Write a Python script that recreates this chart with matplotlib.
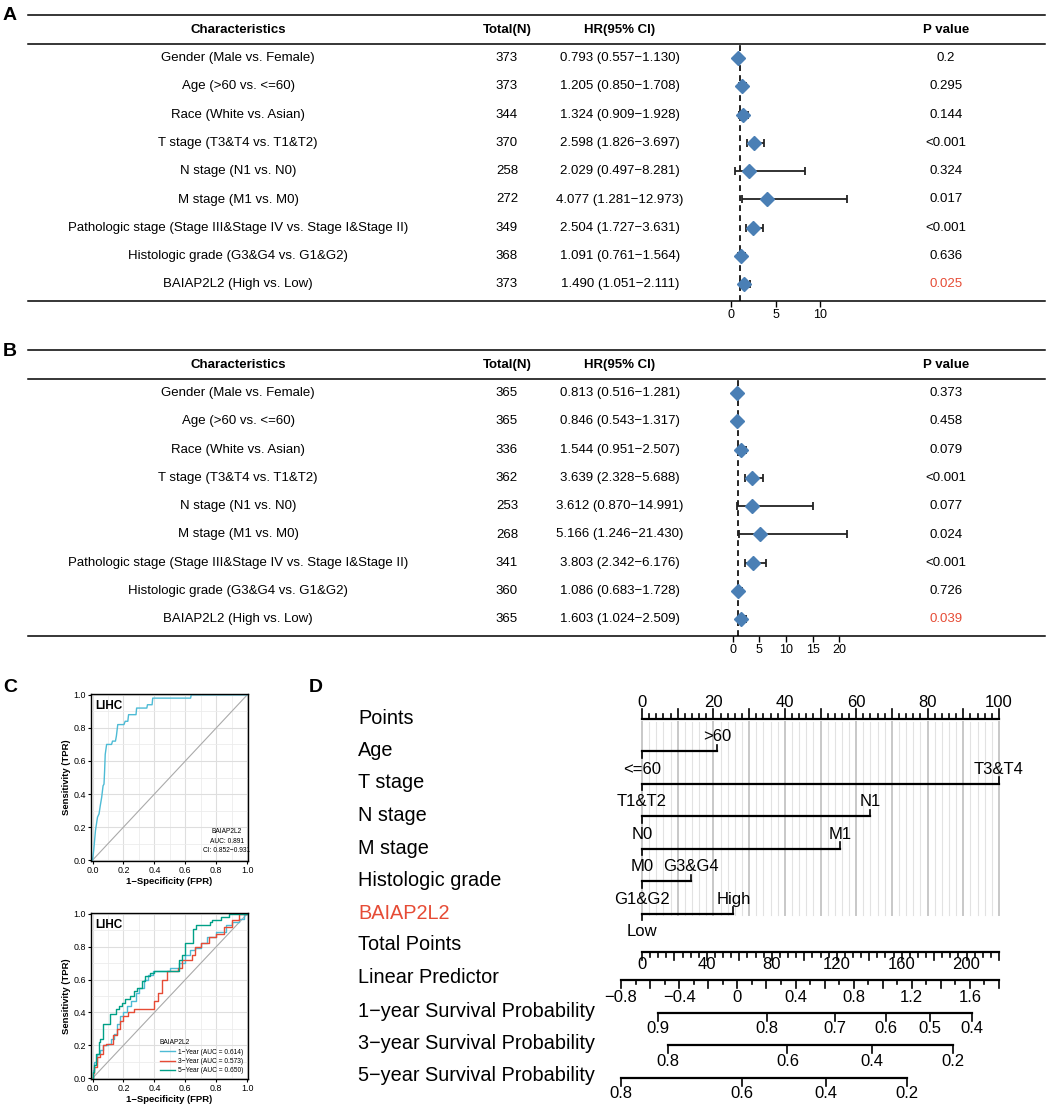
import numpy as np
import matplotlib
matplotlib.use('Agg')
import matplotlib.pyplot as plt

plt.rcParams['font.family'] = ['Liberation Sans', 'DejaVu Sans']

# ---------------- data: Cox tables (A univariate, B multivariate) ----------------
characteristics = ['Gender (Male vs. Female)', 'Age (>60 vs. <=60)', 'Race (White vs. Asian)',
                   'T stage (T3&T4 vs. T1&T2)', 'N stage (N1 vs. N0)', 'M stage (M1 vs. M0)',
                   'Pathologic stage (Stage III&Stage IV vs. Stage I&Stage II)',
                   'Histologic grade (G3&G4 vs. G1&G2)', 'BAIAP2L2 (High vs. Low)']

uni_n = [373, 373, 344, 370, 258, 272, 349, 368, 373]
uni_hr = [0.793, 1.205, 1.324, 2.598, 2.029, 4.077, 2.504, 1.091, 1.490]
uni_lo = [0.557, 0.850, 0.909, 1.826, 0.497, 1.281, 1.727, 0.761, 1.051]
uni_hi = [1.130, 1.708, 1.928, 3.697, 8.281, 12.973, 3.631, 1.564, 2.111]
uni_p = ['0.2', '0.295', '0.144', '<0.001', '0.324', '0.017', '<0.001', '0.636', '0.025']

multi_n = [365, 365, 336, 362, 253, 268, 341, 360, 365]
multi_hr = [0.813, 0.846, 1.544, 3.639, 3.612, 5.166, 3.803, 1.086, 1.603]
multi_lo = [0.516, 0.543, 0.951, 2.328, 0.870, 1.246, 2.342, 0.683, 1.024]
multi_hi = [1.281, 1.317, 2.507, 5.688, 14.991, 21.430, 6.176, 1.728, 2.509]
multi_p = ['0.373', '0.458', '0.079', '<0.001', '0.077', '0.024', '<0.001', '0.726', '0.039']

# ---------------- data: ROC curves (C) ----------------
diag_fpr = [0, 1]
diag_tpr = [0, 1]

roc_fpr = [0, 0.008, 0.019, 0.032, 0.042, 0.05, 0.059, 0.068, 0.074, 0.078, 0.082, 0.091,
           0.123, 0.129, 0.148, 0.154, 0.163, 0.203, 0.211, 0.228, 0.233, 0.281, 0.285,
           0.351, 0.355, 0.385, 0.389, 0.634, 0.638, 1.0]
roc_tpr = [0, 0.064, 0.18, 0.26, 0.28, 0.33, 0.38, 0.45, 0.46, 0.54, 0.64, 0.70,
           0.70, 0.72, 0.72, 0.75, 0.82, 0.82, 0.84, 0.84, 0.88, 0.88, 0.92,
           0.92, 0.94, 0.94, 0.98, 0.98, 1.0, 1.0]
roc_text = 'BAIAP2L2\nAUC: 0.891\nCI: 0.852\u22120.931'

y1_fpr = [0, 0.01, 0.03, 0.05, 0.07, 0.10, 0.12, 0.14, 0.16, 0.18, 0.20, 0.22, 0.25, 0.28,
          0.30, 0.33, 0.36, 0.39, 0.42, 0.50, 0.56, 0.60, 0.63, 0.66, 0.70, 0.74, 0.80,
          0.86, 0.90, 0.95, 0.98, 1.0]
y1_tpr = [0, 0.05, 0.10, 0.15, 0.17, 0.20, 0.21, 0.24, 0.27, 0.33, 0.38, 0.40, 0.44, 0.47,
          0.52, 0.55, 0.60, 0.63, 0.65, 0.65, 0.67, 0.70, 0.75, 0.78, 0.79, 0.82, 0.86,
          0.89, 0.93, 0.95, 0.97, 1.0]
y3_fpr = [0, 0.01, 0.03, 0.05, 0.07, 0.09, 0.13, 0.16, 0.18, 0.20, 0.23, 0.27, 0.33, 0.40,
          0.42, 0.45, 0.48, 0.50, 0.55, 0.58, 0.60, 0.64, 0.66, 0.70, 0.75, 0.80, 0.85,
          0.90, 0.95, 1.0]
y3_tpr = [0, 0.03, 0.07, 0.13, 0.15, 0.20, 0.21, 0.26, 0.30, 0.35, 0.38, 0.40, 0.42, 0.42,
          0.47, 0.52, 0.60, 0.65, 0.65, 0.67, 0.72, 0.72, 0.75, 0.80, 0.82, 0.86, 0.88,
          0.92, 0.96, 1.0]
y5_fpr = [0, 0.01, 0.02, 0.04, 0.05, 0.07, 0.09, 0.11, 0.12, 0.15, 0.17, 0.19, 0.21, 0.24,
          0.27, 0.29, 0.32, 0.34, 0.37, 0.40, 0.43, 0.56, 0.58, 0.60, 0.62, 0.65, 0.67,
          0.70, 0.76, 0.77, 0.83, 0.88, 1.0]
y5_tpr = [0, 0.04, 0.08, 0.15, 0.22, 0.24, 0.33, 0.33, 0.39, 0.39, 0.42, 0.44, 0.46, 0.48,
          0.50, 0.53, 0.55, 0.59, 0.62, 0.64, 0.65, 0.65, 0.72, 0.75, 0.82, 0.82, 0.91,
          0.93, 0.93, 0.95, 0.96, 0.98, 1.0]
time_labels = ['1\u2212Year (AUC = 0.614)', '3\u2212Year (AUC = 0.573)', '5\u2212Year (AUC = 0.650)']

# ---------------- data: nomogram (D) ----------------
nomo_rows = ['Points', 'Age', 'T stage', 'N stage', 'M stage', 'Histologic grade', 'BAIAP2L2',
             'Total Points', 'Linear Predictor', '1\u2212year Survival Probability',
             '3\u2212year Survival Probability', '5\u2212year Survival Probability']
level_low = ['<=60', 'T1&T2', 'N0', 'M0', 'G1&G2', 'Low']
level_high = ['>60', 'T3&T4', 'N1', 'M1', 'G3&G4', 'High']
level_high_points = [21.1, 100, 63.9, 55.5, 13.6, 25.6]
total_points_max = 220
lp_values = [-0.8, 1.6]           # linear predictor read at two positions
lp_total_points = [-12.9, 202.1]  # ... on the total points scale
lp_range = [-0.8, 1.8]
surv1_labels = [0.9, 0.8, 0.7, 0.6, 0.5, 0.4]
surv1_points = [9.7, 76.8, 118.7, 150.4, 177.5, 203.2]
surv3_labels = [0.8, 0.6, 0.4, 0.2]
surv3_points = [15.8, 89.6, 141.9, 191.9]
surv5_labels = [0.8, 0.6, 0.4, 0.2]
surv5_points = [-12.9, 61.4, 113.4, 163.5]

ORANGE = '#E64B35'
BLUE = '#4a7fb5'

W, H = 1053, 1110
fig = plt.figure(figsize=(W / 100, H / 100), dpi=100)


def rect(x0, y0, x1, y1):
    return [x0 / W, 1 - y1 / H, (x1 - x0) / W, (y1 - y0) / H]


ov = fig.add_axes([0, 0, 1, 1])
ov.set_xlim(0, W)
ov.set_ylim(H, 0)
ov.axis('off')

for letter, (lx, ly) in zip('ABCD', [(10, 15), (10, 352), (10, 687), (316, 687)]):
    ov.text(lx, ly, letter, fontsize=14, fontweight='bold', ha='center', va='center')


def forest_table(y_top, n, hr, lo, hi, pv, xlim, xticks):
    dy = 28.3
    for yy in [y_top, y_top + 29, y_top + 286]:
        ov.plot([28, 1045], [yy, yy], color='black', lw=1.1)
    hy = y_top + 15
    for x, t in zip([238, 507, 620, 946], ['Characteristics', 'Total(N)', 'HR(95% CI)', 'P value']):
        ov.text(x, hy, t, fontsize=9.5, fontweight='bold', ha='center', va='center')
    for i in range(len(characteristics)):
        y = y_top + 43 + i * dy
        ov.text(238, y, characteristics[i], fontsize=9.5, ha='center', va='center')
        ov.text(507, y, str(n[i]), fontsize=9.5, ha='center', va='center')
        ov.text(620, y, '%.3f (%.3f\u2212%.3f)' % (hr[i], lo[i], hi[i]), fontsize=9.5,
                ha='center', va='center')
        col = ORANGE if i == len(characteristics) - 1 else 'black'
        ov.text(946, y, pv[i], fontsize=9.5, ha='center', va='center', color=col)

    ax = fig.add_axes(rect(690, y_top + 29, 870, y_top + 286))
    ax.patch.set_alpha(0)
    rows = np.arange(len(hr))
    hr_a, lo_a, hi_a = np.array(hr), np.array(lo), np.array(hi)
    ax.axvline(1, color='black', lw=1.2, ls=(0, (3.5, 2.5)), zorder=1)
    ax.errorbar(hr_a, rows, xerr=[hr_a - lo_a, hi_a - hr_a], fmt='none', ecolor='#222222',
                elinewidth=1.3, capsize=3, capthick=1.3, zorder=2)
    ax.plot(hr_a, rows, 'D', ms=7, color=BLUE, zorder=3)
    ax.set_xlim(*xlim)
    ax.set_ylim(8.587, -0.495)
    for s in ax.spines.values():
        s.set_visible(False)
    ax.set_yticks([])
    ax.set_xticks(xticks)
    ax.tick_params(axis='x', length=4, width=1, labelsize=9, pad=2)


forest_table(15, uni_n, uni_hr, uni_lo, uni_hi, uni_p, (-4.59, 15.56), [0, 5, 10])
forest_table(350, multi_n, multi_hr, multi_lo, multi_hi, multi_p, (-8.01, 25.76), [0, 5, 10, 15, 20])


def roc_axes(r):
    ax = fig.add_axes(r)
    ax.set_xlim(-0.01, 1.005)
    ax.set_ylim(-0.005, 1.005)
    ax.set_xticks(np.arange(0, 1.01, 0.2))
    ax.set_yticks(np.arange(0, 1.01, 0.2))
    ax.set_xticks(np.arange(0.1, 1.0, 0.2), minor=True)
    ax.set_yticks(np.arange(0.1, 1.0, 0.2), minor=True)
    ax.grid(which='major', color='#dedede', lw=0.8)
    ax.grid(which='minor', color='#ececec', lw=0.6)
    ax.set_axisbelow(True)
    ax.tick_params(which='major', length=2, width=0.8, labelsize=6.4, pad=1.5)
    ax.tick_params(which='minor', length=0)
    ax.set_xticklabels(['0.0', '0.2', '0.4', '0.6', '0.8', '1.0'])
    ax.set_yticklabels(['0.0', '0.2', '0.4', '0.6', '0.8', '1.0'])
    for s in ax.spines.values():
        s.set_linewidth(1.0)
    ax.plot(diag_fpr, diag_tpr, color='#aaaaaa', lw=0.8)
    ax.set_xlabel('1\u2212Specificity (FPR)', fontsize=6.8, fontweight='bold', labelpad=1.5)
    ax.set_ylabel('Sensitivity (TPR)', fontsize=6.8, fontweight='bold', labelpad=2)
    ax.text(0.03, 0.965, 'LIHC', transform=ax.transAxes, fontsize=8.5, fontweight='bold',
            ha='left', va='top')
    return ax


axc1 = roc_axes(rect(91, 694, 248, 861))
axc1.plot(roc_fpr, roc_tpr, color='#4DBBD5', lw=1.0)
axc1.text(0.865, 0.04, roc_text, transform=axc1.transAxes, fontsize=4.8, ha='center',
          va='bottom', linespacing=1.55)

axc2 = roc_axes(rect(91, 913, 248, 1079))
for fx, ty, c, lab in zip([y1_fpr, y3_fpr, y5_fpr], [y1_tpr, y3_tpr, y5_tpr],
                          ['#4DBBD5', ORANGE, '#00A087'], time_labels):
    axc2.plot(fx, ty, color=c, lw=1.0, drawstyle='steps-pre', label=lab)
leg = axc2.legend(loc='lower right', bbox_to_anchor=(1.0, 0.0), fontsize=4.8, frameon=False,
                  title='BAIAP2L2', title_fontsize=4.8, handlelength=2.2, handletextpad=0.5,
                  labelspacing=0.35, borderaxespad=0.3)
leg._legend_box.align = 'left'

# ---------------- nomogram ----------------
px_per = 357 / total_points_max
axd = fig.add_axes(rect(340, 680, 1045, 1100))
axd.set_xlim((340 - 642) / px_per, (1045 - 642) / px_per)
axd.set_ylim(11.74, -1.2)
axd.axis('off')
scale = total_points_max / 100.0
FS = 12
LW = 1.6

label_y = [0, 0.96, 1.97, 2.96, 3.98, 4.99, 5.98, 6.96, 7.98, 9.0, 10.0, 11.0]
for i, name in enumerate(nomo_rows):
    axd.text((358 - 642) / px_per, label_y[i], name, fontsize=14.3, ha='left', va='center',
             color=ORANGE if name == 'BAIAP2L2' else 'black')

# vertical reference lines
for p in np.arange(0, 101, 2):
    major = p % 10 == 0
    axd.plot([p * scale, p * scale], [0.1, 6.05], color='#c8c8c8' if major else '#e2e2e2',
             lw=1.4 if major else 0.8, zorder=0)

# Points axis
axd.plot([0, 100 * scale], [0, 0], color='black', lw=LW)
for p in np.arange(0, 101, 2):
    ln = 0.3 if p % 10 == 0 else 0.15
    axd.plot([p * scale, p * scale], [0, -ln], color='black', lw=1.2)
for p in range(0, 101, 20):
    axd.text(p * scale, -0.5, str(p), fontsize=FS, ha='center', va='center')

# variables
for i in range(len(level_low)):
    y = i + 1
    hp = level_high_points[i] * scale
    axd.plot([0, hp], [y, y], color='black', lw=LW)
    axd.plot([0, 0], [y, y + 0.2], color='black', lw=1.2)
    axd.plot([hp, hp], [y, y - 0.2], color='black', lw=1.2)
    axd.text(0, y + 0.55, level_low[i], fontsize=FS, ha='center', va='center')
    axd.text(hp, y - 0.45, level_high[i], fontsize=FS, ha='center', va='center')

# Total points
yt = 7.18
axd.plot([0, total_points_max], [yt, yt], color='black', lw=LW)
for p in np.arange(0, total_points_max + 1, 5):
    ln = 0.25 if p % 20 == 0 else 0.14
    axd.plot([p, p], [yt, yt + ln], color='black', lw=1.2)
for p in range(0, 201, 40):
    axd.text(p, 7.55, str(p), fontsize=FS, ha='center', va='center')


def lp_to_points(v):
    slope = (lp_total_points[1] - lp_total_points[0]) / (lp_values[1] - lp_values[0])
    return lp_total_points[0] + (np.asarray(v) - lp_values[0]) * slope


def fmt(v):
    return ('%g' % round(v, 2)).replace('-', '\u2212')


# Linear predictor
yl = 8.04
axd.plot(lp_to_points(lp_range), [yl, yl], color='black', lw=LW)
for v in np.arange(lp_range[0], lp_range[1] + 0.001, 0.1):
    ln = 0.25 if abs(round(v * 10)) % 2 == 0 else 0.14
    x = lp_to_points(v)
    axd.plot([x, x], [yl, yl + ln], color='black', lw=1.2)
for v in np.arange(-0.8, 1.61, 0.4):
    axd.text(lp_to_points(v), 8.57, fmt(v), fontsize=FS, ha='center', va='center')

# survival probability axes
for yy, labs, pts in [(9.06, surv1_labels, surv1_points), (10.05, surv3_labels, surv3_points),
                      (11.06, surv5_labels, surv5_points)]:
    axd.plot([pts[0], pts[-1]], [yy, yy], color='black', lw=LW)
    for lab, p in zip(labs, pts):
        axd.plot([p, p], [yy, yy + 0.25], color='black', lw=1.2)
        axd.text(p, yy + 0.49, fmt(lab), fontsize=FS, ha='center', va='center')

fig.savefig('out.png', dpi=100)
